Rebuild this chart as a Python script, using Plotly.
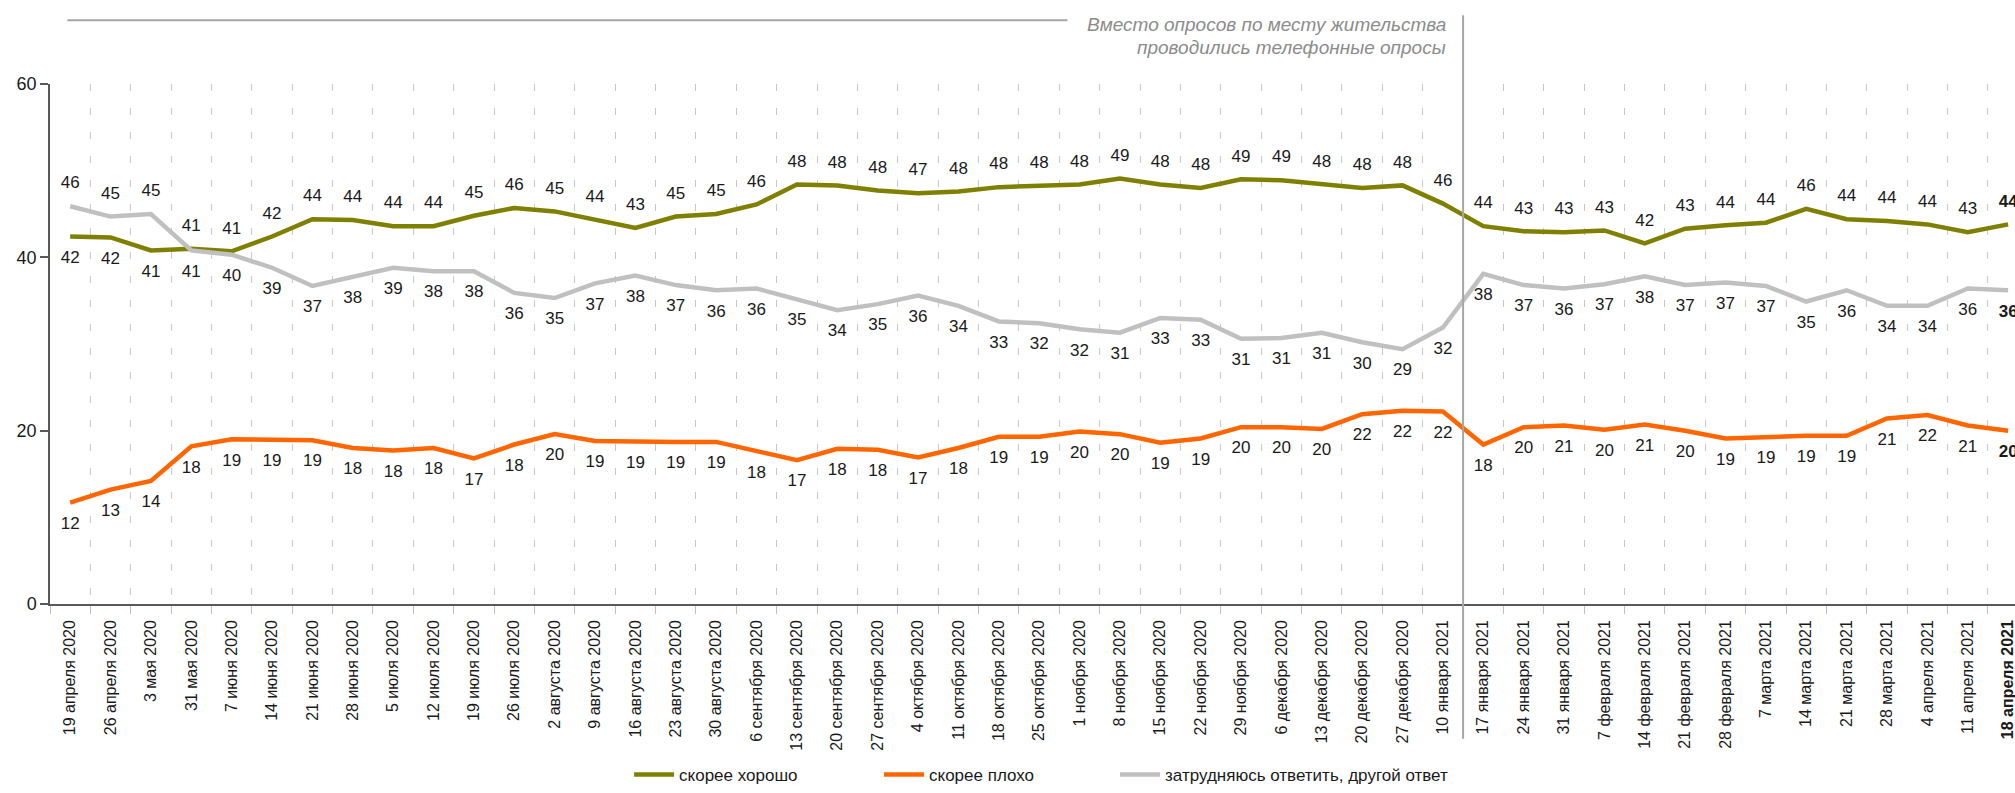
import plotly.graph_objects as go

dates = ["19 апреля 2020", "26 апреля 2020", "3 мая 2020", "31 мая 2020", "7 июня 2020",
         "14 июня 2020", "21 июня 2020", "28 июня 2020", "5 июля 2020", "12 июля 2020",
         "19 июля 2020", "26 июля 2020", "2 августа 2020", "9 августа 2020", "16 августа 2020",
         "23 августа 2020", "30 августа 2020", "6 сентября 2020", "13 сентября 2020",
         "20 сентября 2020", "27 сентября 2020", "4 октября 2020", "11 октября 2020",
         "18 октября 2020", "25 октября 2020", "1 ноября 2020", "8 ноября 2020",
         "15 ноября 2020", "22 ноября 2020", "29 ноября 2020", "6 декабря 2020",
         "13 декабря 2020", "20 декабря 2020", "27 декабря 2020", "10 января 2021",
         "17 января 2021", "24 января 2021", "31 января 2021", "7 февраля 2021",
         "14 февраля 2021", "21 февраля 2021", "28 февраля 2021", "7 марта 2021",
         "14 марта 2021", "21 марта 2021", "28 марта 2021", "4 апреля 2021",
         "11 апреля 2021", "18 апреля 2021"]

good = [42.4, 42.3, 40.8, 41.0, 40.7, 42.4, 44.4, 44.3, 43.6, 43.6, 44.8, 45.7, 45.3, 44.3,
        43.4, 44.7, 45.0, 46.1, 48.4, 48.3, 47.7, 47.4, 47.6, 48.1, 48.3, 48.4, 49.1, 48.4,
        48.0, 49.0, 48.9, 48.4, 48.0, 48.3, 46.2, 43.6, 43.0, 42.9, 43.1, 41.6, 43.3, 43.7,
        44.0, 45.6, 44.4, 44.2, 43.8, 42.9, 43.8]

bad = [11.7, 13.2, 14.2, 18.2, 19.0, 19.0, 18.9, 18.0, 17.7, 18.0, 16.8, 18.4, 19.6, 18.8,
       18.7, 18.7, 18.7, 17.6, 16.6, 17.9, 17.8, 16.9, 18.0, 19.3, 19.3, 19.9, 19.6, 18.6,
       19.1, 20.4, 20.4, 20.2, 21.9, 22.3, 22.2, 18.4, 20.4, 20.6, 20.1, 20.7, 20.0, 19.1,
       19.3, 19.4, 19.4, 21.4, 21.8, 20.6, 20.0]

hard = [45.9, 44.7, 45.0, 40.8, 40.3, 38.8, 36.7, 37.8, 38.8, 38.4, 38.4, 35.9, 35.3, 37.0,
        37.9, 36.8, 36.2, 36.4, 35.2, 33.9, 34.6, 35.6, 34.4, 32.6, 32.4, 31.7, 31.3, 33.0,
        32.8, 30.6, 30.7, 31.3, 30.2, 29.4, 31.9, 38.1, 36.8, 36.4, 36.9, 37.8, 36.8, 37.1,
        36.7, 34.9, 36.2, 34.4, 34.4, 36.4, 36.2]

series_names = ["скорее хорошо", "скорее плохо", "затрудняюсь ответить, другой ответ"]
series_colors = ["#808000", "#ff6600", "#c0c0c0"]
y_ticks = [0, 20, 40, 60]
note_lines = ["Вместо опросов по месту жительства", "проводились телефонные опросы"]

FONT = "Liberation Sans, Arial, sans-serif"
n = len(dates)
x = list(range(n))


def labels(vals):
    out = [f"{v:.0f}" for v in vals]
    out[-1] = "<b>" + out[-1] + "</b>"
    return out


pos_good = ["bottom center" if i < 3 else "top center" for i in range(n)]
pos_hard = ["top center" if i < 3 else "bottom center" for i in range(n)]
pos_bad = ["bottom center"] * n

legend_ids = ["legend", "legend2", "legend3"]
fig = go.Figure()
for vals, name, color, lg in zip([good, bad, hard], series_names, series_colors, legend_ids):
    fig.add_trace(go.Scatter(x=x, y=vals, mode="lines", name=name, legend=lg,
                             line=dict(color=color, width=4.5), hoverinfo="skip"))

for vals, pos in [(good, pos_good), (bad, pos_bad), (hard, pos_hard)]:
    fig.add_trace(go.Scatter(x=x, y=vals, mode="markers+text", showlegend=False,
                             text=labels(vals), textposition=pos,
                             marker=dict(size=20, color="rgba(0,0,0,0)"),
                             textfont=dict(family=FONT, size=17, color="#1a1a1a"),
                             hoverinfo="skip"))

ticktext = list(dates)
ticktext[-1] = "<b>" + ticktext[-1] + "</b>"
boundaries = [i - 0.5 for i in range(n + 1)]

legend_common = dict(orientation="h", xanchor="left", y=-0.33, yanchor="middle",
                     font=dict(family=FONT, size=17, color="#1a1a1a"), itemwidth=40,
                     bgcolor="rgba(0,0,0,0)")

fig.update_layout(
    width=2015, height=793, autosize=False,
    margin=dict(l=50, r=0, t=84, b=188, pad=0),
    paper_bgcolor="white", plot_bgcolor="white",
    font=dict(family=FONT, color="#1a1a1a"),
    xaxis=dict(type="linear", range=[-0.5, 48.17], tickmode="array", tickvals=x,
               ticktext=ticktext, tickangle=-90, showgrid=False, ticklabeloverflow="allow",
               ticks="outside", ticklen=8, tickcolor="rgba(0,0,0,0)",
               minor=dict(tickmode="array", tickvals=boundaries, showgrid=True,
                          gridcolor="#c8c8c8", gridwidth=1, griddash="7px,17px",
                          ticks="outside", ticklen=8, tickcolor="#bfbfbf", tickwidth=1),
               showline=True, linecolor="#595959", linewidth=1.5,
               tickfont=dict(family=FONT, size=16, color="#1a1a1a"),
               zeroline=False, fixedrange=True),
    yaxis=dict(range=[0, 60], tickvals=y_ticks, showgrid=False, zeroline=False,
               ticks="outside", ticklen=8, tickcolor="#595959", tickwidth=1.5,
               showline=True, linecolor="#595959", linewidth=1.5,
               tickfont=dict(family=FONT, size=18, color="#1a1a1a"), fixedrange=True),
    legend=dict(x=0.2947, **legend_common),
    legend2=dict(x=0.4219, **legend_common),
    legend3=dict(x=0.5420, **legend_common),
    shapes=[
        dict(type="line", xref="x", yref="paper", x0=34.5, x1=34.5, y0=-0.259, y1=1.132,
             line=dict(color="#a6a6a6", width=2), layer="above"),
        dict(type="line", xref="x", yref="paper", x0=-0.07, x1=24.7, y0=1.1228, y1=1.1228,
             line=dict(color="#a6a6a6", width=2)),
    ],
    annotations=[
        dict(xref="paper", yref="paper", x=0.7115, y=(605 - 24) / 521, xanchor="right",
             yanchor="middle", text="<i>" + note_lines[0] + "</i>", showarrow=False,
             font=dict(family=FONT, size=19, color="#8c8c8c")),
        dict(xref="paper", yref="paper", x=0.7115, y=(605 - 47) / 521, xanchor="right",
             yanchor="middle", text="<i>" + note_lines[1] + "</i>", showarrow=False,
             font=dict(family=FONT, size=19, color="#8c8c8c")),
    ],
)

fig.write_html("out.html", config={"displayModeBar": False},
               post_script="document.body.style.margin='0';document.body.style.overflow='hidden';")
